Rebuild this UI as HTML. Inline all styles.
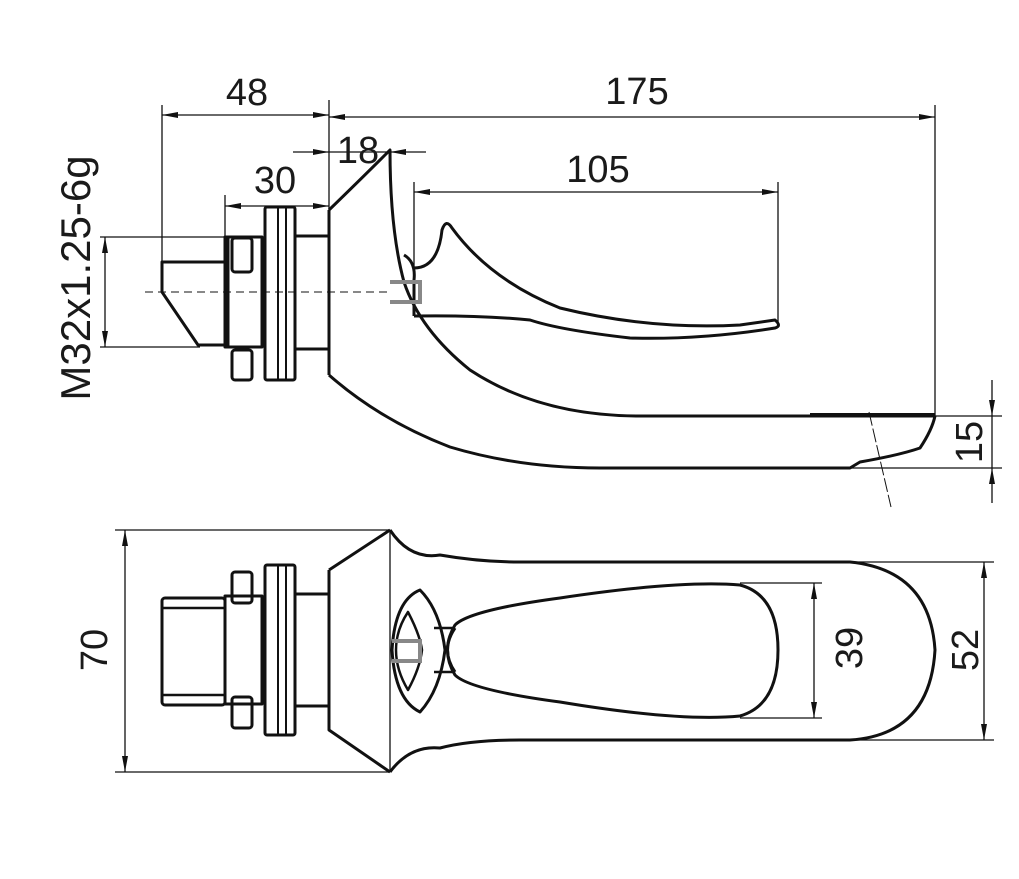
<!DOCTYPE html>
<html><head><meta charset="utf-8"><style>
html,body{margin:0;padding:0;background:#fff}
svg{display:block}
text{font-family:"Liberation Sans",sans-serif;font-size:38px;fill:#1a1a1a}
</style></head><body>
<svg width="1019" height="879" viewBox="0 0 1019 879" xmlns="http://www.w3.org/2000/svg">
<defs>
<marker id="a" viewBox="0 0 16 6" refX="16" refY="3" markerWidth="16" markerHeight="6" orient="auto-start-reverse" markerUnits="userSpaceOnUse"><path d="M0,0 L16,3 L0,6z" fill="#111"/></marker>
</defs>
<g stroke="#111" stroke-width="1.3" fill="none">
<line x1="162" y1="105" x2="162" y2="262"/>
<line x1="329" y1="100" x2="329" y2="210"/>
<line x1="935" y1="105" x2="935" y2="416"/>
<line x1="225" y1="195" x2="225" y2="238"/>
<line x1="414" y1="182" x2="414" y2="316"/>
<line x1="778" y1="182" x2="778" y2="322"/>
<line x1="100" y1="237" x2="228" y2="237"/>
<line x1="100" y1="347" x2="200" y2="347"/>
<line x1="162" y1="115" x2="329" y2="115" marker-start="url(#a)" marker-end="url(#a)"/>
<line x1="329" y1="117" x2="935" y2="117" marker-start="url(#a)" marker-end="url(#a)"/>
<line x1="293" y1="152" x2="329" y2="152" marker-end="url(#a)"/>
<line x1="329" y1="152" x2="390" y2="152"/>
<line x1="426" y1="152" x2="390" y2="152" marker-end="url(#a)"/>
<line x1="225" y1="206" x2="329" y2="206" marker-start="url(#a)" marker-end="url(#a)"/>
<line x1="414" y1="192" x2="778" y2="192" marker-start="url(#a)" marker-end="url(#a)"/>
<line x1="105" y1="237" x2="105" y2="347" marker-start="url(#a)" marker-end="url(#a)"/>
<line x1="145" y1="292" x2="392" y2="292" stroke-dasharray="8,5" stroke-width="1"/>
<line x1="935" y1="416" x2="1002" y2="416"/>
<line x1="850" y1="468" x2="1002" y2="468"/>
<line x1="992" y1="380" x2="992" y2="416" marker-end="url(#a)"/>
<line x1="992" y1="416" x2="992" y2="468"/>
<line x1="992" y1="503" x2="992" y2="468" marker-end="url(#a)"/>
<line x1="869" y1="412" x2="891" y2="507" stroke-width="1" stroke-dasharray="14,3"/>
<line x1="115" y1="530" x2="390" y2="530"/>
<line x1="115" y1="772" x2="390" y2="772"/>
<line x1="125" y1="530" x2="125" y2="772" marker-start="url(#a)" marker-end="url(#a)"/>
<line x1="740" y1="583" x2="822" y2="583"/>
<line x1="740" y1="718" x2="822" y2="718"/>
<line x1="814" y1="583" x2="814" y2="718" marker-start="url(#a)" marker-end="url(#a)"/>
<line x1="850" y1="562" x2="994" y2="562"/>
<line x1="850" y1="740" x2="994" y2="740"/>
<line x1="984" y1="562" x2="984" y2="740" marker-start="url(#a)" marker-end="url(#a)"/>
</g>
<g stroke="#111" stroke-width="3" fill="none" stroke-linejoin="round">
<path d="M162,262 H225 V345 H198 L162,292 Z"/>
<rect x="225" y="237" width="37" height="110"/>
<line x1="227" y1="237" x2="227" y2="347" stroke-width="5"/>
<rect x="232" y="238" width="20" height="34" rx="3"/>
<rect x="232" y="350" width="20" height="30" rx="3"/>
<rect x="265" y="207" width="30" height="173" rx="2"/>
<line x1="278" y1="207" x2="278" y2="380" stroke-width="2"/>
<line x1="286" y1="207" x2="286" y2="380" stroke-width="2"/>
<path d="M295,236 H329 M295,349 H329"/>
<line x1="329" y1="210" x2="329" y2="375"/>
<path d="M329,210 Q365,175 390,150 Q390,230 404,282 Q420,330 470,370 Q540,416 640,416 H935"/>
<path d="M329,375 Q380,420 450,447 Q520,468 600,468 H850 L860,462 Q900,455 920,448 Q932,430 935,416"/>
<line x1="810" y1="415" x2="935" y2="415" stroke-width="4"/>
<path d="M404,255 Q416,262 414,280 V316"/>
<path d="M414,268 Q438,268 442,230 Q446,218 452,228 Q490,280 560,308 Q650,330 740,325 L775,320 Q782,326 775,328 Q700,340 630,338 Q560,330 530,320 Q480,315 414,316"/>
<rect x="162" y="598" width="63" height="107" rx="3"/>
<path d="M162,608 H225 M162,695 H225" stroke-width="2.5"/>
<rect x="225" y="596" width="37" height="108"/>
<rect x="232" y="572" width="20" height="31" rx="3"/>
<rect x="232" y="697" width="20" height="31" rx="3"/>
<rect x="265" y="565" width="30" height="170" rx="2"/>
<line x1="278" y1="565" x2="278" y2="735" stroke-width="2"/>
<line x1="286" y1="565" x2="286" y2="735" stroke-width="2"/>
<path d="M295,594 H329 M295,706 H329"/>
<path d="M329,570 L390,530 M329,570 V730 L390,772"/>
<path d="M390,530 Q410,560 440,555 Q480,562 520,562 H850 Q930,570 935,650 Q930,735 850,740 H520 Q470,740 440,748 Q410,745 390,772"/>
<line x1="390" y1="530" x2="390" y2="772" stroke-width="1.3"/>
<path d="M420,590 Q440,610 445,650 Q440,690 420,712 Q395,700 392,650 Q395,600 420,590 Z"/>
<path d="M408,612 Q420,635 422,650 Q420,668 408,690 Q396,670 396,650 Q396,630 408,612 Z" stroke-width="2.5"/>
<path d="M434,628 H455 M434,672 H455" stroke-width="2.5"/>
<path d="M455,628 Q440,650 455,672"/>
<path d="M455,625 Q470,610 560,598 Q680,580 740,585 Q778,595 778,650 Q778,705 740,716 Q680,722 560,702 Q470,690 455,675 Q440,650 455,625 Z"/>
</g>
<g stroke="#888" stroke-width="4" fill="none">
<path d="M390,282 H420 V302 H390"/>
<path d="M392,641 H420 V661 H392"/>
</g>
<g>
<text x="247" y="105" text-anchor="middle">48</text>
<text x="637" y="104" text-anchor="middle">175</text>
<text x="358" y="163" text-anchor="middle">18</text>
<text x="275" y="193" text-anchor="middle">30</text>
<text x="598" y="182" text-anchor="middle">105</text>
<text transform="translate(90,278) rotate(-90)" text-anchor="middle" style="font-size:42px">M32x1.25-6g</text>
<text transform="translate(982,442) rotate(-90)" text-anchor="middle">15</text>
<text transform="translate(107,650) rotate(-90)" text-anchor="middle">70</text>
<text transform="translate(862,648) rotate(-90)" text-anchor="middle">39</text>
<text transform="translate(978,650) rotate(-90)" text-anchor="middle">52</text>
</g>
</svg>
</body></html>
